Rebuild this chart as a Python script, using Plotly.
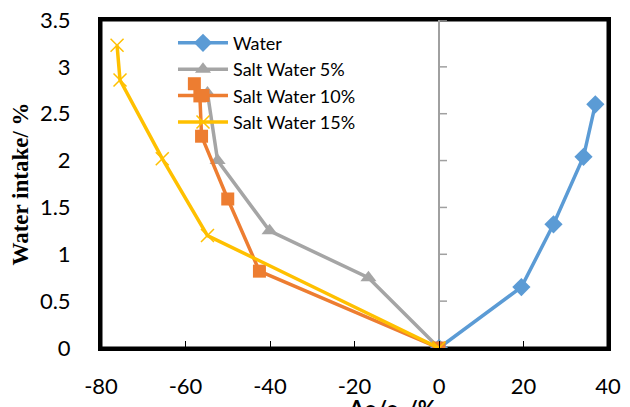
import plotly.graph_objects as go

water_x = [0, 19.5, 27.1, 34.2, 37.0]
water_y = [0, 0.65, 1.32, 2.04, 2.60]
salt5_x = [0, -16.7, -40.1, -52.4, -54.8]
salt5_y = [0, 0.75, 1.25, 2.0, 2.72]
salt10_x = [0, -42.5, -50.0, -56.2, -56.6, -57.9]
salt10_y = [0, 0.82, 1.59, 2.26, 2.69, 2.82]
salt15_x = [0, -54.8, -65.5, -75.5, -76.2]
salt15_y = [0, 1.20, 2.02, 2.86, 3.23]

x_ticks = [-80, -60, -40, -20, 0, 20, 40]
y_ticks = [0, 0.5, 1, 1.5, 2, 2.5, 3, 3.5]
y_labels = ["0", "0.5", "1", "1.5", "2", "2.5", "3", "3.5"]

FONT = "Lato"

fig = go.Figure()
fig.add_trace(go.Scatter(x=water_x, y=water_y, name="Water", mode="lines+markers",
                         line=dict(color="#5B9BD5", width=3.5),
                         marker=dict(symbol="diamond", size=14, color="#5B9BD5")))
fig.add_trace(go.Scatter(x=salt5_x, y=salt5_y, name="Salt Water 5%", mode="lines+markers",
                         line=dict(color="#A5A5A5", width=3.5),
                         marker=dict(symbol="triangle-up", size=14, color="#A5A5A5")))
fig.add_trace(go.Scatter(x=salt10_x, y=salt10_y, name="Salt Water 10%", mode="lines+markers",
                         line=dict(color="#ED7D31", width=3.5),
                         marker=dict(symbol="square", size=13, color="#ED7D31")))
fig.add_trace(go.Scatter(x=salt15_x, y=salt15_y, name="Salt Water 15%", mode="lines+markers",
                         line=dict(color="#FFC000", width=3.5),
                         marker=dict(symbol="x-thin", size=13, color="#FFC000",
                                     line=dict(color="#FFC000", width=1.5))))

fig.update_layout(
    width=630, height=407,
    margin=dict(l=93, r=30, t=12, b=67, autoexpand=False),
    paper_bgcolor="white", plot_bgcolor="white",
    font=dict(family=FONT, size=22, color="black"),
    showlegend=True,
    legend=dict(x=0.142, y=0.986, xanchor="left", yanchor="top",
                bgcolor="rgba(0,0,0,0)", font=dict(family=FONT, size=18),
                tracegroupgap=0, itemwidth=50),
    xaxis=dict(range=[-80, 40], tickvals=x_ticks, ticktext=[str(v) for v in x_ticks],
               showgrid=False, automargin=False, ticklabeloverflow="allow",
               zeroline=True, zerolinecolor="#A0A0A0", zerolinewidth=1.5,
               showline=True, mirror=True, linecolor="black", linewidth=3,
               ticks="inside", ticklen=7, tickwidth=1, tickcolor="black",
               ticklabelstandoff=17,
               tickfont=dict(family=FONT, size=22)),
    yaxis=dict(range=[0, 3.5], tickvals=y_ticks, ticktext=y_labels,
               showgrid=False, zeroline=False, automargin=False,
               ticklabeloverflow="allow",
               showline=True, mirror=True, linecolor="black", linewidth=3,
               ticks="", ticklabelstandoff=23,
               tickfont=dict(family=FONT, size=22),
               title=dict(text="<b>Water intake/ %</b>",
                          font=dict(family="Liberation Serif", size=23), standoff=9)),
)

# plot frame
fig.add_shape(type="rect", xref="paper", yref="paper", x0=0, x1=1, y0=0, y1=1,
              line=dict(color="black", width=3), layer="below")

# ticks of the vertical axis crossing at x = 0 (pointing right)
for yv in y_ticks[1:]:
    fig.add_shape(type="line", xref="x", yref="y", xsizemode="pixel", xanchor=0,
                  x0=0, x1=8, y0=yv, y1=yv, line=dict(color="#A0A0A0", width=1.5),
                  layer="below")

fig.add_annotation(text="<b>Δρ/ρ<sub>0</sub>/%</b>", xref="x", yref="paper",
                   x=-11, y=-0.137, xanchor="center", yanchor="top",
                   showarrow=False, font=dict(family=FONT, size=22))

fig.write_html("out.html")
